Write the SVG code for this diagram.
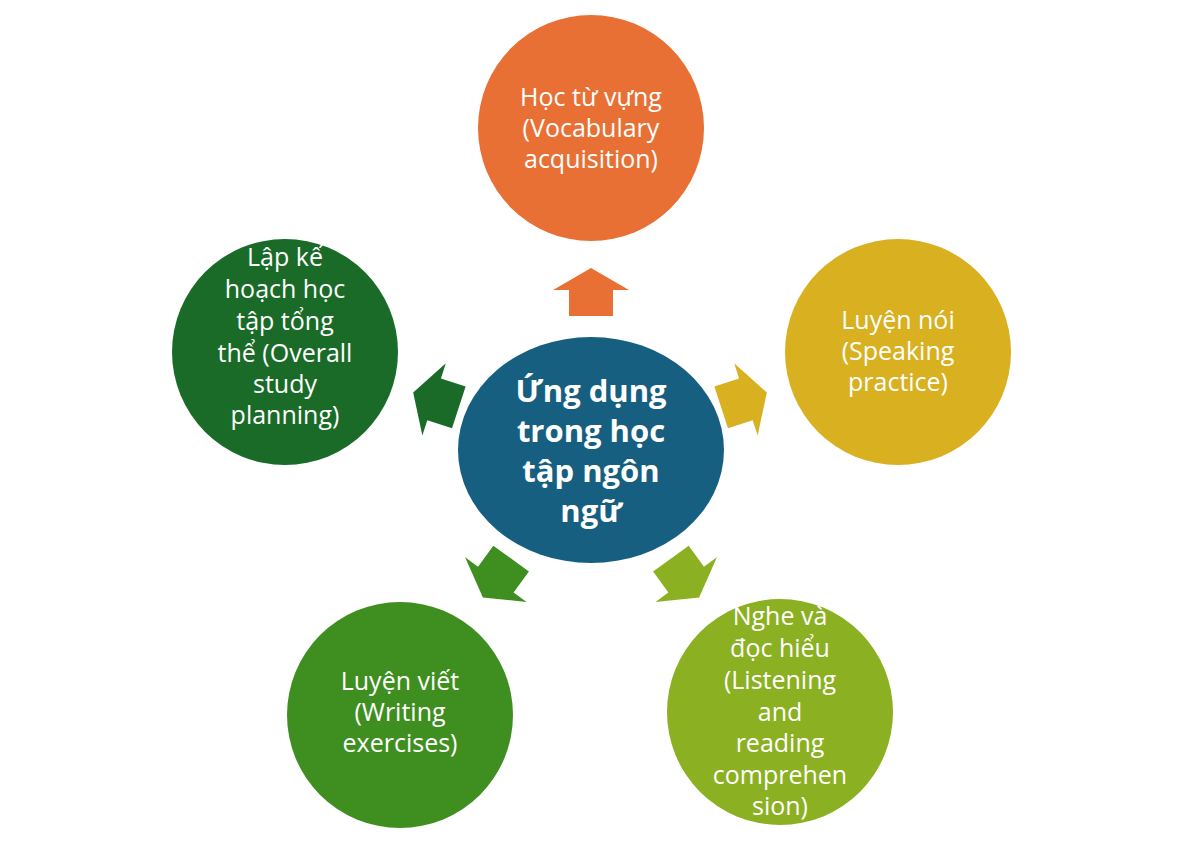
<svg xmlns="http://www.w3.org/2000/svg" width="1200" height="841" viewBox="0 0 1200 841">
<style>
text{font-family:"Open Sans","Noto Sans",sans-serif;fill:#fff;text-anchor:middle;font-size:25px}
.c{font-size:31px;font-weight:bold}
</style>
<defs><polygon id="ar" points="0,-24 38,-2 22,-2 22,24 -22,24 -22,-2 -38,-2"/></defs>
<rect width="1200" height="841" fill="#fff"/>
<g id="connectors">
<use href="#ar" fill="#E87034" transform="translate(591,292)"/>
<use href="#ar" fill="#D8B020" transform="translate(744,400) rotate(72)"/>
<use href="#ar" fill="#1A6B28" transform="translate(436,400) rotate(-72)"/>
<use href="#ar" fill="#3F8E20" transform="translate(497,578) rotate(-144)"/>
<use href="#ar" fill="#8BB022" transform="translate(685,578) rotate(144)"/>
</g>
<g id="center"><ellipse cx="591" cy="450" rx="133" ry="113" fill="#165F80"/>
<text class="c" x="591" y="402">Ứng dụng</text><text class="c" x="591" y="442">trong học</text><text class="c" x="591" y="482">tập ngôn</text><text class="c" x="591" y="522">ngữ</text></g>
<g id="top"><circle cx="591" cy="128" r="113" fill="#E87034"/>
<text x="591" y="106">Học từ vựng</text><text x="591" y="137">(Vocabulary</text><text x="591" y="168">acquisition)</text></g>
<g id="right"><circle cx="898" cy="352" r="113" fill="#D8B020"/>
<text x="898" y="329">Luyện nói</text><text x="898" y="360">(Speaking</text><text x="898" y="391">practice)</text></g>
<g id="left"><circle cx="285" cy="352" r="113" fill="#1A6B28"/>
<text x="285" y="266">Lập kế</text><text x="285" y="298">hoạch học</text><text x="285" y="330">tập tổng</text><text x="285" y="362">thể (Overall</text><text x="285" y="393">study</text><text x="285" y="424">planning)</text></g>
<g id="bottomleft"><circle cx="400" cy="715" r="113" fill="#3F8E20"/>
<text x="400" y="690">Luyện viết</text><text x="400" y="721">(Writing</text><text x="400" y="752">exercises)</text></g>
<g id="bottomright"><circle cx="780" cy="712" r="113" fill="#8BB022"/>
<text x="780" y="625">Nghe và</text><text x="780" y="657">đọc hiểu</text><text x="780" y="689">(Listening</text><text x="780" y="721">and</text><text x="780" y="752">reading</text><text x="780" y="784">comprehen</text><text x="780" y="815">sion)</text></g>
</svg>
